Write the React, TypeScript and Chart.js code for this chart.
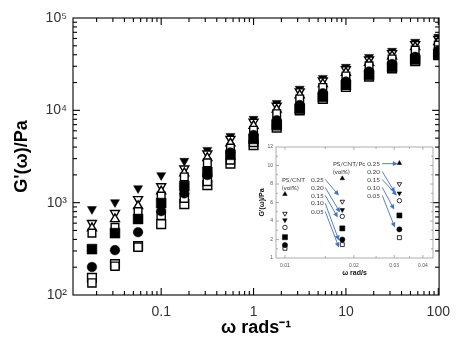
import React, { useEffect, useRef } from 'react';
import { Chart, registerables } from 'chart.js';

Chart.register(...registerables);

// ---------------- main chart data ----------------
const frequencies = [0.0178, 0.0316, 0.0562, 0.1, 0.178, 0.316, 0.562, 1, 1.78, 3.16, 5.62, 10, 17.8, 31.6, 56.2, 100];
const gFilledDown = [850, 1010, 1430, 1980, 2830, 3720, 5270, 8070, 12000, 17100, 22400, 29500, 37800, 44000, 55100, 62400];
const gOpenDown = [600, 770, 1090, 1500, 2340, 3400, 4900, 7500, 11200, 16000, 21000, 27800, 35500, 41500, 52000, 59000];
const gOpenUp = [530, 665, 920, 1330, 2090, 3050, 4400, 6800, 10200, 14600, 19300, 25600, 32800, 38600, 48500, 55000];
const gOpenSquareA = [468, 540, 800, 1180, 1900, 2700, 3900, 6100, 9200, 13300, 17700, 23600, 30300, 36000, 45000, 51000];
const gFilledSquare = [314, 468, 665, 990, 1510, 2150, 3300, 4900, 7000, 10400, 14000, 18800, 24200, 29500, 35500, 40500];
const gFilledCircle = [201, 306, 479, 809, 1260, 1990, 3500, 5400, 7800, 11400, 15300, 20500, 26300, 31800, 38000, 44000];
const gOpenSquare = [153, 216, 339, 586, 966, 1550, 2650, 4200, 6500, 10000, 13300, 17900, 23200, 28500, 34000, 39500];
const gOpenSquareB = [135, 205, 330, 730, 1120, 1700, 2900, 4500, 6800, 10600, 14200, 19200, 24800, 30000, 36500, 42500];

const xTickValues = [0.1, 1, 10, 100];
const xTickLabels = ['0.1', '1', '10', '100'];
const yTickValues = [100, 1000, 10000, 100000];
const yTickLabels = ['10²', '10³', '10⁴', '10⁵'];

// ---------------- inset data ----------------
const insetFrequencies = [0.01, 0.0178, 0.0316];
const iFilledUp = [6.9, 8.6, 10.25];
const iOpenDown = [4.8, 6.1, 8.0];
const iFilledDown = [4.1, 5.2, 7.0];
const iOpenCircle = [3.3, 4.5, 6.2];
const iFilledSquare = [2.25, 3.2, 4.6];
const iFilledCircle = [1.4, 2.0, 3.1];
const iOpenSquare = [1.05, 1.45, 2.2];

const insetXTickValues = [0.01, 0.02, 0.03, 0.04];
const insetXTickLabels = ['0.01', '0.02', '0.03', '0.04'];
const insetYTickValues = [0, 2, 4, 6, 8, 10, 12];
const insetYTickLabels = ['1', '2', '4', '6', '8', '10', '12'];
const volLevels = ['0.25', '0.20', '0.15', '0.10', '0.05'];

const labelFor = (vals: number[], labels: string[]) => (value: any) => {
  const v = Number(value);
  const i = vals.findIndex((t) => Math.abs(t - v) <= Math.abs(t) * 1e-6 + 1e-12);
  return i >= 0 ? labels[i] : '';
};

const framePlugin = {
  id: 'frameTicks',
  beforeDraw(chart: any, _a: any, opts: any) {
    if (!opts || !opts.fill) return;
    const { ctx, chartArea: a } = chart;
    ctx.save();
    ctx.fillStyle = opts.fill;
    ctx.fillRect(a.left, a.top, a.right - a.left, a.bottom - a.top);
    ctx.restore();
  },
  afterDraw(chart: any, _a: any, opts: any) {
    if (!opts || !opts.enabled) return;
    const { ctx, chartArea: a, scales } = chart;
    const xs = scales.x;
    const ys = scales.y;
    ctx.save();
    ctx.strokeStyle = opts.color;
    ctx.lineWidth = opts.lineWidth;
    const line = (x1: number, y1: number, x2: number, y2: number) => {
      ctx.beginPath();
      ctx.moveTo(x1, y1);
      ctx.lineTo(x2, y2);
      ctx.stroke();
    };
    for (const t of opts.xTicks) {
      const px = xs.getPixelForValue(t.v);
      if (px < a.left + 0.5 || px > a.right - 0.5) continue;
      line(px, a.bottom, px, a.bottom - t.len);
      line(px, a.top, px, a.top + t.len);
    }
    for (const t of opts.yTicks) {
      const py = ys.getPixelForValue(t.v);
      if (py < a.top + 0.5 || py > a.bottom - 0.5) continue;
      line(a.left, py, a.left + t.len, py);
      line(a.right, py, a.right - t.len, py);
    }
    ctx.strokeRect(a.left, a.top, a.right - a.left, a.bottom - a.top);
    ctx.restore();
  },
};

function logTicks(minExp: number, maxExp: number, major: number, minor: number) {
  const out: { v: number; len: number }[] = [];
  for (let e = minExp; e <= maxExp; e++) {
    for (let m = 1; m <= 9; m++) {
      out.push({ v: m * Math.pow(10, e), len: m === 1 ? major : minor });
    }
  }
  return out;
}

const notesPlugin = {
  id: 'insetNotes',
  afterDatasetsDraw(chart: any) {
    const { ctx, scales } = chart;
    const X = (v: number) => scales.x.getPixelForValue(v);
    const Y = (v: number) => scales.y.getPixelForValue(v);
    ctx.save();
    ctx.font = '6.4px Lato';
    ctx.fillStyle = '#3a3a3a';
    ctx.textBaseline = 'middle';
    ctx.textAlign = 'left';
    // PS/CNT group
    const cntRows = [8.49, 7.62, 6.76, 5.9, 5.03];
    ctx.fillText('PS/CNT', X(0.0097), Y(cntRows[0]));
    ctx.fillText('(vol%)', X(0.0097), Y(cntRows[1]));
    volLevels.forEach((s, i) => ctx.fillText(s, X(0.0130), Y(cntRows[i])));
    // PS/CNT/Pc group
    const pcRows = [10.2, 9.35, 8.49, 7.62, 6.76];
    ctx.fillText('PS/CNT/Pc', X(0.0162), Y(pcRows[0]));
    ctx.fillText('(vol%)', X(0.0162), Y(pcRows[1]));
    volLevels.forEach((s, i) => ctx.fillText(s, X(0.0229), Y(pcRows[i])));

    const arrow = (x1: number, y1: number, x2: number, y2: number) => {
      const ax = X(x1), ay = Y(y1), bx = X(x2), by = Y(y2);
      const ang = Math.atan2(by - ay, bx - ax);
      const hl = 5, hw = 2.4;
      ctx.strokeStyle = '#4472c4';
      ctx.fillStyle = '#4472c4';
      ctx.lineWidth = 0.9;
      ctx.beginPath();
      ctx.moveTo(ax, ay);
      ctx.lineTo(bx - Math.cos(ang) * hl * 0.8, by - Math.sin(ang) * hl * 0.8);
      ctx.stroke();
      ctx.beginPath();
      ctx.moveTo(bx, by);
      ctx.lineTo(bx - Math.cos(ang) * hl - Math.sin(ang) * hw, by - Math.sin(ang) * hl + Math.cos(ang) * hw);
      ctx.lineTo(bx - Math.cos(ang) * hl + Math.sin(ang) * hw, by - Math.sin(ang) * hl - Math.cos(ang) * hw);
      ctx.closePath();
      ctx.fill();
    };
    const cntTips = [6.76, 4.92, 4.38, 1.9, 1.14];
    const cntTipX = [0.0172, 0.0174, 0.0170, 0.0172, 0.0172];
    cntRows.forEach((r, i) => arrow(0.0150, r, cntTipX[i], cntTips[i]));
    const pcTips = [10.2, 7.08, 6.76, 5.24, 3.3];
    const pcTipX = [0.0311, 0.0302, 0.0308, 0.0300, 0.0302];
    pcRows.forEach((r, i) => arrow(0.0266, r, pcTipX[i], pcTips[i]));
    ctx.restore();
  },
};

function series(xs: number[], ys: number[], style: string, filled: boolean, radius: number, rotation = 0, bw = 1.4) {
  return {
    data: xs.map((x, i) => ({ x, y: ys[i] })),
    pointStyle: style,
    pointRotation: rotation,
    pointRadius: radius,
    pointHoverRadius: radius,
    pointBackgroundColor: filled ? '#000' : '#fff',
    pointBorderColor: '#000',
    pointBorderWidth: filled ? 0.5 : bw,
    showLine: false,
  };
}

const noGrid = { display: false, drawTicks: false, tickLength: 0 };

export default function App() {
  const mainRef = useRef<HTMLCanvasElement>(null);
  const insetRef = useRef<HTMLCanvasElement>(null);

  useEffect(() => {
    const f = frequencies;
    const main = new Chart(mainRef.current as HTMLCanvasElement, {
      type: 'scatter',
      data: {
        datasets: [
          series(f, gFilledCircle, 'circle', true, 4.8),
          series(f, gFilledSquare, 'rect', true, 7),
          series(f, gOpenSquareB, 'rect', false, 5.8),
          series(f, gOpenSquare, 'rect', false, 6.2),
          series(f, gOpenSquareA, 'rect', false, 5.4),
          series(f, gOpenUp, 'triangle', false, 5.2),
          series(f, gOpenDown, 'triangle', false, 5.2, 180),
          series(f, gFilledDown, 'triangle', true, 5.2, 180),
        ] as any,
      },
      options: {
        animation: false,
        responsive: false,
        devicePixelRatio: 1,
        layout: { padding: { left: 0, top: 18, right: 12, bottom: 0 } },
        plugins: {
          legend: { display: false },
          tooltip: { enabled: false },
          frameTicks: {
            enabled: true,
            color: '#000',
            lineWidth: 1.1,
            xTicks: logTicks(-2, 2, 7, 4),
            yTicks: logTicks(2, 5, 7, 4),
          },
        } as any,
        scales: {
          x: {
            type: 'logarithmic',
            min: 0.0111,
            max: 102,
            grid: noGrid,
            border: { display: false },
            afterBuildTicks: (s: any) => {
              s.ticks = xTickValues.map((v) => ({ value: v }));
            },
            afterFit: (s: any) => {
              s.height = 47;
            },
            ticks: {
              autoSkip: false,
              maxRotation: 0,
              padding: 9,
              color: '#333',
              font: { family: 'Liberation Sans', size: 14 },
              callback: labelFor(xTickValues, xTickLabels),
            },
            title: {
              display: true,
              text: 'ω rads⁻¹',
              color: '#000',
              font: { family: 'Liberation Sans', size: 18, weight: 'bold' },
              padding: { top: 0, bottom: 3 },
            },
          },
          y: {
            type: 'logarithmic',
            min: 100,
            max: 100000,
            grid: noGrid,
            border: { display: false },
            afterBuildTicks: (s: any) => {
              s.ticks = yTickValues.map((v) => ({ value: v }));
            },
            afterFit: (s: any) => {
              s.width = 73;
            },
            ticks: {
              autoSkip: false,
              padding: 6,
              color: '#333',
              font: { family: 'Liberation Sans', size: 14 },
              callback: labelFor(yTickValues, yTickLabels),
            },
            title: {
              display: true,
              text: "G'(ω)/Pa",
              color: '#000',
              font: { family: 'Liberation Sans', size: 18, weight: 'bold' },
              padding: { top: 11, bottom: 0 },
            },
          },
        },
      } as any,
      plugins: [framePlugin],
    });

    const fi = insetFrequencies;
    const inset = new Chart(insetRef.current as HTMLCanvasElement, {
      type: 'scatter',
      data: {
        datasets: [
          series(fi, iFilledCircle, 'circle', true, 2.6),
          series(fi, iFilledSquare, 'rect', true, 3.6),
          series(fi, iOpenSquare, 'rect', false, 2.8, 0, 0.8),
          series(fi, iOpenCircle, 'circle', false, 2.2, 0, 0.8),
          series(fi, iFilledDown, 'triangle', true, 2.6, 180),
          series(fi, iOpenDown, 'triangle', false, 2.6, 180, 0.8),
          series(fi, iFilledUp, 'triangle', true, 2.6),
        ] as any,
      },
      options: {
        animation: false,
        responsive: false,
        devicePixelRatio: 1,
        layout: { padding: { left: 0, top: 9, right: 12, bottom: 0 } },
        plugins: {
          legend: { display: false },
          tooltip: { enabled: false },
          frameTicks: {
            enabled: true,
            fill: '#fff',
            color: '#9a9a9a',
            lineWidth: 0.8,
            xTicks: [
              { v: 0.01, len: 3 }, { v: 0.015, len: 2 }, { v: 0.02, len: 3 }, { v: 0.025, len: 2 },
              { v: 0.03, len: 3 }, { v: 0.035, len: 2 }, { v: 0.04, len: 3 },
            ],
            yTicks: [0, 1, 2, 3, 4, 5, 6, 7, 8, 9, 10, 11, 12].map((v) => ({ v, len: v % 2 === 0 ? 3 : 2 })),
          },
        } as any,
        scales: {
          x: {
            type: 'logarithmic',
            min: 0.00914,
            max: 0.0443,
            grid: noGrid,
            border: { display: false },
            afterBuildTicks: (s: any) => {
              s.ticks = insetXTickValues.map((v) => ({ value: v }));
            },
            afterFit: (s: any) => {
              s.height = 25;
            },
            ticks: {
              autoSkip: false,
              maxRotation: 0,
              padding: 5,
              color: '#555',
              font: { family: 'Liberation Sans', size: 5 },
              callback: labelFor(insetXTickValues, insetXTickLabels),
            },
            title: {
              display: true,
              text: 'ω rad/s',
              color: '#111',
              font: { family: 'Liberation Sans', size: 7, weight: 'bold' },
              padding: { top: 0, bottom: 6 },
            },
          },
          y: {
            type: 'linear',
            min: 0,
            max: 12,
            grid: noGrid,
            border: { display: false },
            afterBuildTicks: (s: any) => {
              s.ticks = insetYTickValues.map((v) => ({ value: v }));
            },
            afterFit: (s: any) => {
              s.width = 36;
            },
            ticks: {
              autoSkip: false,
              padding: 3,
              color: '#555',
              font: { family: 'Liberation Sans', size: 5 },
              callback: labelFor(insetYTickValues, insetYTickLabels),
            },
            title: {
              display: true,
              text: "G'(ω)/Pa",
              color: '#111',
              font: { family: 'Liberation Sans', size: 7, weight: 'bold' },
              padding: { top: 18, bottom: 0 },
            },
          },
        },
      } as any,
      plugins: [framePlugin, notesPlugin],
    });

    return () => {
      main.destroy();
      inset.destroy();
    };
  }, []);

  return (
    <div style={{ position: 'fixed', left: 0, top: 0, width: 459, height: 342, background: '#fff' }}>
      <canvas ref={mainRef} width={459} height={342} style={{ position: 'absolute', left: 0, top: 0 }} />
      <canvas ref={insetRef} width={205} height={145} style={{ position: 'absolute', left: 240, top: 138 }} />
    </div>
  );
}
